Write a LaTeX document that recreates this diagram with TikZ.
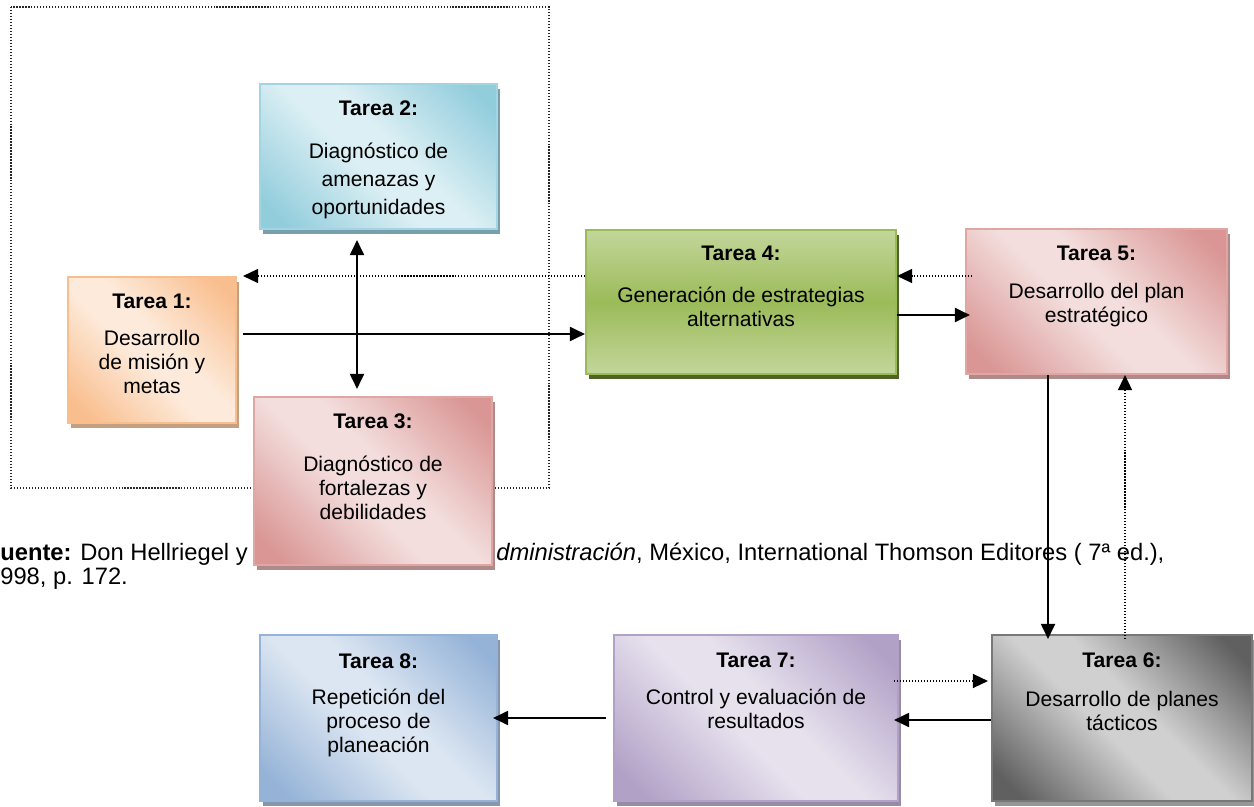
\documentclass[tikz,border=0pt]{standalone}
\usepackage{fontspec}
\setmainfont{Liberation Sans}
\usetikzlibrary{arrows.meta, positioning, calc, shadows}
\definecolor{OrangeLight}{RGB}{253, 234, 218}
\definecolor{OrangeDark}{RGB}{249, 190, 142}
\definecolor{OrangeShadow}{RGB}{196, 160, 128}
\definecolor{AquaLight}{RGB}{220, 239, 244}
\definecolor{AquaDark}{RGB}{146, 205, 220}
\definecolor{AquaShadow}{RGB}{120, 160, 172}
\definecolor{RoseLight}{RGB}{243, 222, 221}
\definecolor{RoseDark}{RGB}{217, 150, 148}
\definecolor{RoseShadow}{RGB}{176, 138, 138}
\definecolor{OliveLight}{RGB}{195, 214, 155}
\definecolor{OliveDark}{RGB}{155, 187, 89}
\definecolor{OliveShadow}{RGB}{79, 98, 40}
\definecolor{GreyLight}{RGB}{208, 208, 208}
\definecolor{GreyDark}{RGB}{96, 96, 96}
\definecolor{GreyShadow}{RGB}{150, 150, 150}
\definecolor{LilacLight}{RGB}{230, 225, 237}
\definecolor{LilacDark}{RGB}{178, 161, 199}
\definecolor{LilacShadow}{RGB}{150, 140, 165}
\definecolor{SkyLight}{RGB}{220, 230, 242}
\definecolor{SkyDark}{RGB}{149, 179, 215}
\definecolor{SkyShadow}{RGB}{135, 150, 172}
\colorlet{bandout}{white}
\colorlet{bandin}{white}
\pgfdeclarehorizontalshading[bandout,bandin]{tareaband}{100bp}{color(0bp)=(bandout); color(20bp)=(bandout); color(45bp)=(bandin); color(55bp)=(bandin); color(80bp)=(bandout); color(100bp)=(bandout)}

\begin{document}
\begin{tikzpicture}[
        tbox/.style 2 args={rectangle, inner sep=0pt, line width=1.2pt, draw=#1, drop shadow={shadow xshift=0.06cm, shadow yshift=-0.1cm, fill=#2, opacity=1}},
        band/.style 2 args={/utils/exec={\colorlet{bandout}{#1}\colorlet{bandin}{#2}}, shading=tareaband, shading angle=45},
        txt/.style={align=center, inner sep=0pt, font=\fontsize{12}{13.7}\selectfont},
        note/.style={inner sep=0pt, anchor=base west, font=\fontsize{13.5}{13.7}\selectfont},
        flow/.style={-{Triangle[length=0.3cm, width=0.28cm]}, line width=1.1pt},
        twoway/.style={{Triangle[length=0.3cm, width=0.28cm]}-{Triangle[length=0.3cm, width=0.28cm]}, line width=1.1pt},
        fback/.style={-{Triangle[length=0.3cm, width=0.28cm]}, densely dotted, line width=0.7pt},
        frame/.style={densely dotted, line width=0.7pt, black!85}
    ]
        \path[use as bounding box, fill=white] (0,0) rectangle (25.08,-16.14);

        % Frame and source note
        \draw[frame] (0.22,-0.14) rectangle (10.98,-9.76);
        \node[note] (src1) at (0,-11.2) {\textbf{uente:} Don Hellriegel y};
        \node[note] (src2) at (9.92,-11.2) {\textit{dministración}, México, International Thomson Editores ( 7ª ed.),};
        \node[note] (src3) at (0,-11.68) {998, p. 172.};

        % Boxes
        \node[tbox={OrangeDark}{OrangeShadow}, band={OrangeDark}{OrangeLight}, minimum width=3.36cm, minimum height=2.92cm] (t1) at (3.04,-7.00) {};
        \node[txt, below=0.35cm of t1.north] (t1x) {\textbf{Tarea 1:}\\[7.5pt]Desarrollo\\de misión y\\metas};

        \node[tbox={AquaDark!85!white}{AquaShadow}, band={AquaDark}{AquaLight}, minimum width=4.74cm, minimum height=2.90cm] (t2) at (7.57,-3.13) {};
        \node[txt, font=\fontsize{12}{16}\selectfont, below=0.35cm of t2.north] (t2x) {\textbf{Tarea 2:}\\[8.5pt]Diagnóstico de\\amenazas y\\oportunidades};

        \node[tbox={RoseDark!85!white}{RoseShadow}, band={RoseDark}{RoseLight}, minimum width=4.76cm, minimum height=3.36cm] (t3) at (7.46,-9.62) {};
        \node[txt, below=0.35cm of t3.north] (t3x) {\textbf{Tarea 3:}\\[10.5pt]Diagnóstico de\\fortalezas y\\debilidades};

        \node[tbox={OliveDark}{OliveShadow}, top color=OliveLight, bottom color=OliveLight, middle color=OliveDark, minimum width=6.20cm, minimum height=2.88cm] (t4) at (14.82,-6.04) {};
        \node[txt, below=0.33cm of t4.north] (t4x) {\textbf{Tarea 4:}\\[10.5pt]Generación de estrategias\\alternativas};

        \node[tbox={RoseDark!85!white}{RoseShadow}, band={RoseDark}{RoseLight}, minimum width=5.22cm, minimum height=2.90cm] (t5) at (21.93,-6.03) {};
        \node[txt, below=0.35cm of t5.north] (t5x) {\textbf{Tarea 5:}\\[8pt]Desarrollo del plan\\estratégico};

        \node[tbox={GreyDark!85!white}{GreyShadow}, band={GreyDark}{GreyLight}, minimum width=5.20cm, minimum height=3.32cm] (t6) at (22.44,-14.36) {};
        \node[txt, below=0.36cm of t6.north] (t6x) {\textbf{Tarea 6:}\\[9pt]Desarrollo de planes\\tácticos};

        \node[tbox={LilacDark}{LilacShadow}, band={LilacDark}{LilacLight}, minimum width=5.68cm, minimum height=3.32cm] (t7) at (15.12,-14.36) {};
        \node[txt, below=0.38cm of t7.north] (t7x) {\textbf{Tarea 7:}\\[7pt]Control y evaluación de\\resultados};

        \node[tbox={SkyDark}{SkyShadow}, band={SkyDark}{SkyLight}, minimum width=4.74cm, minimum height=3.32cm] (t8) at (7.57,-14.36) {};
        \node[txt, below=0.39cm of t8.north] (t8x) {\textbf{Tarea 8:}\\[6.5pt]Repetición del\\proceso de\\planeación};

        % Arrows
        \draw[fback] ($(t4.west)+(0,0.52)$) coordinate (fb1) -- ($(fb1 -| t1.east)+(0.12,0)$);
        \draw[flow] ($(t1.east)+(0.12,0.32)$) coordinate (fw1) -- (fw1 -| t4.west);
        \draw[twoway, shorten >=0.14cm] ($(t2.south)+(-0.43,-0.2)$) coordinate (v1) -- (v1 |- t3.north);
        \draw[fback] ($(t5.west)+(0.14,0.51)$) coordinate (fb2) -- (fb2 -| t4.east);
        \draw[flow] ($(t4.east)+(0,-0.26)$) coordinate (fw2) -- ($(fw2 -| t5.west)+(0.1,0)$);
        \draw[flow] ($(t5.south)+(-0.97,0)$) coordinate (fw3) -- ($(fw3 |- t6.north)+(0,-0.1)$);
        \draw[fback] ($(t6.north)+(0.06,-0.1)$) coordinate (fb3) -- (fb3 |- t5.south);
        \draw[fback] ($(t7.east)+(-0.1,0.74)$) coordinate (fb4) -- ($(fb4 -| t6.west)+(-0.06,0)$);
        \draw[flow] ($(t6.west)+(0,-0.04)$) coordinate (fw4) -- ($(fw4 -| t7.east)+(-0.1,0)$);
        \draw[flow] ($(t7.west)+(-0.14,0)$) coordinate (fw5) -- ($(fw5 -| t8.east)+(-0.1,0)$);

    \end{tikzpicture}
\end{document}
